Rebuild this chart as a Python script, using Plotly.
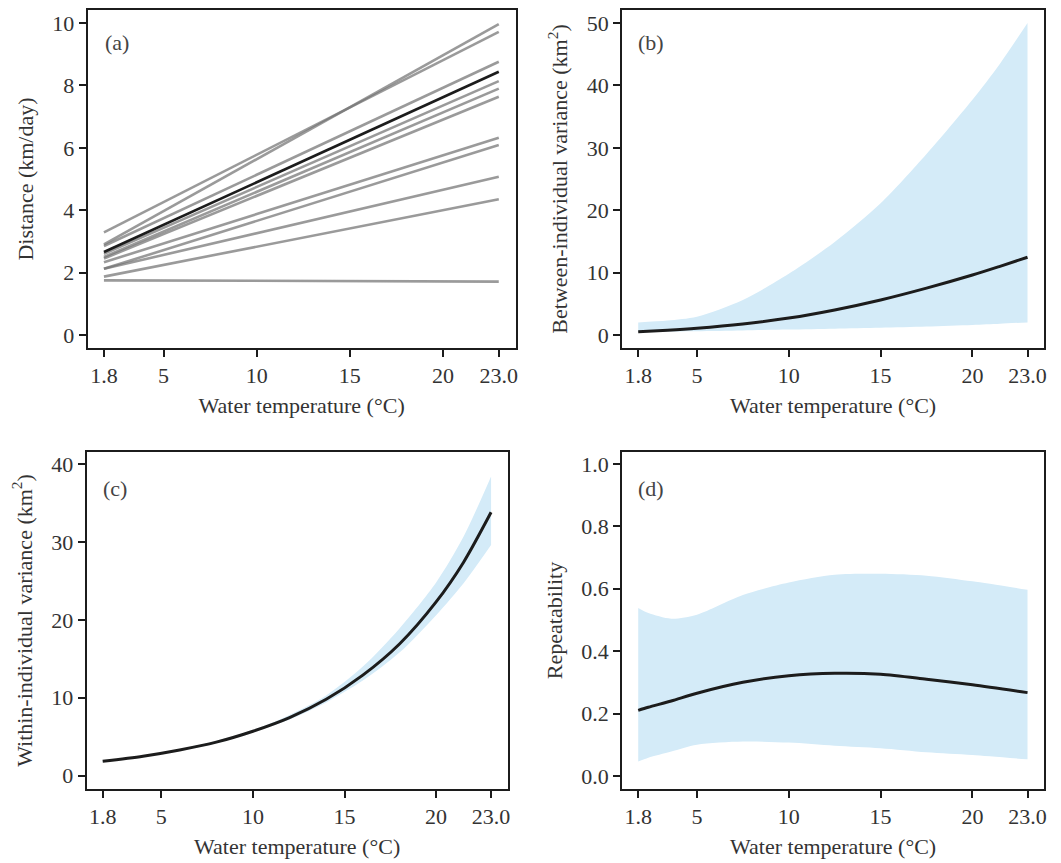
import plotly.graph_objects as go

# ---------------- data ----------------
temp_ends = [1.8, 23.0]
# panel (a): individual reaction norms (start at 1.8 °C, end at 23 °C)
ind_start = [3.29, 2.90, 2.85, 2.60, 2.50, 2.45, 2.33, 2.12, 2.12, 1.87, 1.75]
ind_end = [9.72, 9.97, 8.76, 8.14, 7.90, 7.64, 6.32, 6.09, 5.07, 4.35, 1.71]
mean_start = 2.66
mean_end = 8.44

# panel (b): between-individual variance
temp_b = [1.8, 3.4, 5, 7.5, 10, 12.5, 15, 17.5, 20, 21.5, 23]
mean_b = [0.5, 0.75, 1.07, 1.75, 2.7, 4.0, 5.6, 7.5, 9.6, 11.0, 12.45]
upper_b = [2.0, 2.3, 2.9, 5.6, 9.8, 14.9, 21.1, 29.0, 37.7, 43.5, 50.0]
lower_b = [0.45, 0.55, 0.6, 0.72, 0.85, 1.0, 1.15, 1.35, 1.6, 1.8, 2.0]

# panel (c): within-individual variance
temp_c = [1.8, 4, 6, 8, 10, 12, 14, 16, 18, 20, 21.5, 23]
mean_c = [1.84, 2.5, 3.3, 4.3, 5.7, 7.45, 9.8, 12.9, 16.9, 22.3, 27.4, 33.8]
upper_c = [1.95, 2.6, 3.4, 4.45, 5.85, 7.8, 10.3, 14.0, 18.9, 24.8, 30.7, 38.4]
lower_c = [1.75, 2.4, 3.2, 4.15, 5.55, 7.2, 9.4, 12.2, 15.8, 20.6, 24.7, 29.6]

# panel (d): repeatability
temp_d = [1.8, 2.35, 3.6, 5, 7.5, 10, 12.5, 15, 17.5, 20, 23]
mean_d = [0.21, 0.22, 0.24, 0.265, 0.30, 0.321, 0.329, 0.326, 0.31, 0.292, 0.267]
upper_d = [0.538, 0.522, 0.504, 0.517, 0.58, 0.62, 0.645, 0.648, 0.642, 0.624, 0.597]
lower_d = [0.046, 0.058, 0.078, 0.10, 0.11, 0.107, 0.097, 0.089, 0.076, 0.067, 0.053]

x_ticks = [1.8, 5, 10, 15, 20, 23.0]
x_ticklabels = ["1.8", "5", "10", "15", "20", "23.0"]

panel_labels = ["(a)", "(b)", "(c)", "(d)"]
y_titles = ["Distance (km/day)",
            "Between-individual variance (km<sup>2</sup>)",
            "Within-individual variance (km<sup>2</sup>)",
            "Repeatability"]
x_title = "Water temperature (°C)"

# ---------------- style ----------------
W, H = 1061, 863
FONT = '"Liberation Serif", "Times New Roman", "DejaVu Serif", serif'
FS = 22
TXT = "#333333"
BAND = "#d4ebf8"
DARK = "#1c1c1c"
GREY = "rgba(115,115,115,0.72)"

# axes pixel boxes: (left, right, top, bottom)
boxes = [(88, 517, 10, 348), (624, 1047, 10, 348),
         (87, 509, 452, 789), (624, 1047, 452, 789)]
y_ranges = [[-0.42, 10.42], [-2.1, 52.1], [-1.71, 41.54], [-0.042, 1.0385]]
y_ticks = [[0, 2, 4, 6, 8, 10], [0, 10, 20, 30, 40, 50],
           [0, 10, 20, 30, 40], [0, 0.2, 0.4, 0.6, 0.8, 1.0]]
y_ticktext = [None, None, None, ["0.0", "0.2", "0.4", "0.6", "0.8", "1.0"]]
x_range = [0.93, 23.9]

fig = go.Figure()

# panel (a)
for s, e in zip(ind_start, ind_end):
    fig.add_trace(go.Scatter(x=temp_ends, y=[s, e], mode="lines",
                             line=dict(color=GREY, width=2.6),
                             showlegend=False, hoverinfo="skip",
                             xaxis="x", yaxis="y"))
fig.add_trace(go.Scatter(x=temp_ends, y=[mean_start, mean_end], mode="lines",
                         line=dict(color=DARK, width=2.6),
                         showlegend=False, xaxis="x", yaxis="y"))


def band(xs, lo, hi, mid, ax):
    xa = "x" + str(ax)
    ya = "y" + str(ax)
    fig.add_trace(go.Scatter(x=xs, y=lo, mode="lines",
                             line=dict(width=0, color=BAND, shape="spline",
                                       smoothing=0.8),
                             showlegend=False, hoverinfo="skip",
                             xaxis=xa, yaxis=ya))
    fig.add_trace(go.Scatter(x=xs, y=hi, mode="lines", fill="tonexty",
                             fillcolor=BAND,
                             line=dict(width=0, color=BAND, shape="spline",
                                       smoothing=0.8),
                             showlegend=False, hoverinfo="skip",
                             xaxis=xa, yaxis=ya))
    fig.add_trace(go.Scatter(x=xs, y=mid, mode="lines",
                             line=dict(color=DARK, width=3, shape="spline",
                                       smoothing=0.8),
                             showlegend=False, xaxis=xa, yaxis=ya))


band(temp_b, lower_b, upper_b, mean_b, 2)
band(temp_c, lower_c, upper_c, mean_c, 3)
band(temp_d, lower_d, upper_d, mean_d, 4)

layout = dict(width=W, height=H, margin=dict(l=0, r=0, t=0, b=0),
              paper_bgcolor="white", plot_bgcolor="white",
              font=dict(family=FONT, size=FS, color=TXT), annotations=[])

for i, (l, r, t, b) in enumerate(boxes):
    n = "" if i == 0 else str(i + 1)
    layout["xaxis" + n] = dict(
        domain=[l / W, r / W], anchor="y" + n, range=x_range,
        tickmode="array", tickvals=x_ticks, ticktext=x_ticklabels,
        ticks="outside", ticklen=7, tickwidth=2, tickcolor=DARK,
        showline=True, linecolor=DARK, linewidth=2, mirror=True,
        showgrid=False, zeroline=False,
        title=dict(text=x_title, standoff=10, font=dict(size=FS, family=FONT)),
        tickfont=dict(size=FS, family=FONT))
    yax = dict(
        domain=[1 - b / H, 1 - t / H], anchor="x" + n, range=y_ranges[i],
        tickmode="array", tickvals=y_ticks[i],
        ticks="outside", ticklen=7, tickwidth=2, tickcolor=DARK,
        showline=True, linecolor=DARK, linewidth=2, mirror=True,
        showgrid=False, zeroline=False,
        title=dict(text=y_titles[i], standoff=13, font=dict(size=FS, family=FONT)),
        tickfont=dict(size=FS, family=FONT))
    if y_ticktext[i] is not None:
        yax["ticktext"] = y_ticktext[i]
    layout["yaxis" + n] = yax
    ay = 0.905 if i < 2 else 0.893
    layout["annotations"].append(dict(
        text=panel_labels[i], xref="x" + n + " domain", yref="y" + n + " domain",
        x=0.068, y=ay, xanchor="center", yanchor="middle", showarrow=False,
        font=dict(size=FS, color="#444444", family=FONT)))

fig.update_layout(**layout)
fig.write_html("out.html", config={"displayModeBar": False},
               post_script="document.body.style.margin='0';"
                           "document.body.style.padding='0';")
